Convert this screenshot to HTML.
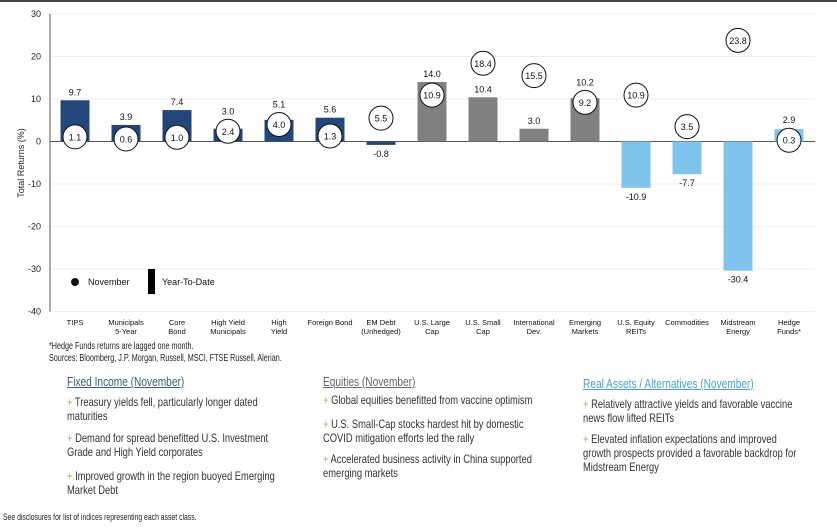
<!DOCTYPE html>
<html><head><meta charset="utf-8">
<style>
body{margin:0;width:837px;height:528px;background:#fff;overflow:hidden;position:relative;font-family:"Liberation Sans",sans-serif}
svg{position:absolute;left:0;top:0}
.t{position:absolute;white-space:nowrap;transform:scaleX(0.78);transform-origin:0 0;font-size:12px;color:#333;line-height:14px}
.h{font-size:13px;text-decoration:underline}
.p{color:#8cbf5a}
.f{position:absolute;white-space:nowrap;transform:scaleX(0.72);transform-origin:0 0;font-size:10px;color:#222}
</style></head><body>
<div style="position:absolute;left:0;top:0;width:837px;height:2px;background:#444"></div>
<svg id="chart" width="837" height="340"></svg>

<div class="f" style="left:49px;top:341px">*Hedge Funds returns are lagged one month.</div>
<div class="f" style="left:49px;top:353px">Sources: Bloomberg, J.P. Morgan, Russell, MSCI, FTSE Russell, Alerian.</div>

<div class="t h" style="left:67px;top:375px;color:#3b5b82">Fixed Income (November)</div>
<div class="t" style="left:67px;top:395px"><span class="p">+</span> Treasury yields fell, particularly longer dated<br>maturities</div>
<div class="t" style="left:67px;top:431px"><span class="p">+</span> Demand for spread benefitted U.S. Investment<br>Grade and High Yield corporates</div>
<div class="t" style="left:67px;top:469px"><span class="p">+</span> Improved growth in the region buoyed Emerging<br>Market Debt</div>

<div class="t h" style="left:323px;top:375px;color:#666">Equities (November)</div>
<div class="t" style="left:323px;top:393px"><span class="p">+</span> Global equities benefitted from vaccine optimism</div>
<div class="t" style="left:323px;top:417px"><span class="p">+</span> U.S. Small-Cap stocks hardest hit by domestic<br>COVID mitigation efforts led the rally</div>
<div class="t" style="left:323px;top:452px"><span class="p">+</span> Accelerated business activity in China supported<br>emerging markets</div>

<div class="t h" style="left:583px;top:377px;color:#4aa3d8">Real Assets / Alternatives (November)</div>
<div class="t" style="left:583px;top:397px"><span class="p">+</span> Relatively attractive yields and favorable vaccine<br>news flow lifted REITs</div>
<div class="t" style="left:583px;top:432px"><span class="p">+</span> Elevated inflation expectations and improved<br>growth prospects provided a favorable backdrop for<br>Midstream Energy</div>

<div class="f" style="left:3px;top:512px;font-size:9.5px">See disclosures for list of indices representing each asset class.</div>

<script>
const categories=[["TIPS"],["Municipals","5-Year"],["Core","Bond"],["High Yield","Municipals"],["High","Yield"],["Foreign Bond"],["EM Debt","(Unhedged)"],["U.S. Large","Cap"],["U.S. Small","Cap"],["International","Dev."],["Emerging","Markets"],["U.S. Equity","REITs"],["Commodities"],["Midstream","Energy"],["Hedge","Funds*"]];
const ytd=[9.7,3.9,7.4,3.0,5.1,5.6,-0.8,14.0,10.4,3.0,10.2,-10.9,-7.7,-30.4,2.9];
const november=[1.1,0.6,1.0,2.4,4.0,1.3,5.5,10.9,18.4,15.5,9.2,10.9,3.5,23.8,0.3];
const groups=["fi","fi","fi","fi","fi","fi","fi","eq","eq","eq","eq","ra","ra","ra","ra"];
const yTicks=[30,20,10,0,-10,-20,-30,-40];

const svg=document.getElementById('chart');
const NS='http://www.w3.org/2000/svg';
const colors={fi:'#23477a',eq:'#808080',ra:'#7fc4ec'};
const y=v=>141.5-v*4.25;
const x=i=>75+i*51.0;
function mk(tag,attrs,txt){const e=document.createElementNS(NS,tag);for(const k in attrs)e.setAttribute(k,attrs[k]);if(txt!=null)e.textContent=txt;svg.appendChild(e);return e;}

yTicks.forEach(t=>{
  const g=mk('line',{x1:50,x2:815,y1:y(t),y2:y(t),stroke:t===0?'#555':'#eee','stroke-width':1});
  
  
  const l=mk('text',{x:41,y:y(t)+3,'text-anchor':'end','font-size':9,fill:'#222'},String(t));
  
  
});
const ax=mk('line',{x1:50,x2:50,y1:y(30),y2:y(-40),stroke:'#555','stroke-width':1});


const yt=mk('text',{x:0,y:0,transform:'translate(24,163) rotate(-90)','text-anchor':'middle','font-size':9,fill:'#222'},'Total Returns (%)');



ytd.forEach((v,i)=>{
  const top=Math.min(y(v),y(0)),h=Math.abs(y(v)-y(0));
  const b=mk('rect',{x:x(i)-14.5,y:top,width:29,height:h,fill:colors[groups[i]]});
  
  
});
november.forEach((v,i)=>{
  const c=mk('circle',{cx:x(i),cy:y(v),r:12,fill:'#fff',stroke:'#111','stroke-width':1});
  
  
  const l=mk('text',{x:x(i),y:y(v)+3.5,'text-anchor':'middle','font-size':9,fill:'#111'},v.toFixed(1));
  
  
});
ytd.forEach((v,i)=>{
  let cy;
  if(v>=0){
    cy=y(v)-8;
    if(november[i]<=v) cy=Math.min(cy,y(november[i])-20);
  } else cy=y(v)+9;
  const l=mk('text',{x:x(i),y:cy+3,'text-anchor':'middle','font-size':9,fill:'#111'},v.toFixed(1));
  
  
});
categories.forEach((c,i)=>{
  c.forEach((s,j)=>{
    const l=mk('text',{x:x(i),y:325+j*9,'text-anchor':'middle','font-size':7.5,fill:'#111'},s);
    
    
  });
});
const ld=mk('circle',{cx:75,cy:282,r:4,fill:'#111'});


const lt=mk('text',{x:88,y:285,'font-size':9,fill:'#111'},'November');


const lb=mk('rect',{x:148,y:269,width:7,height:25,fill:'#000'});


const lt2=mk('text',{x:162,y:285,'font-size':9,fill:'#111'},'Year-To-Date');


</script>
</body></html>
